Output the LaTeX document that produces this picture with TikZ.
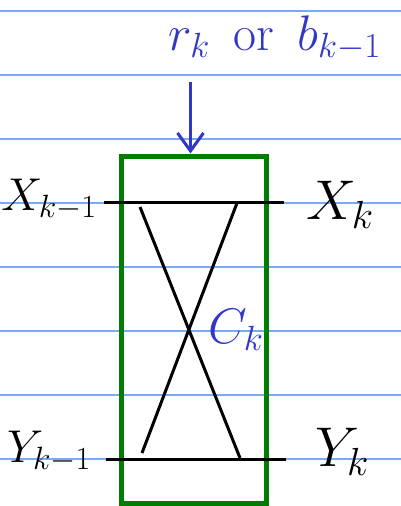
\documentclass[tikz,border=0pt]{standalone}
\usepackage{fix-cm}
\usetikzlibrary{arrows.meta}
\definecolor{rulecol}{RGB}{120,172,242}
\definecolor{boxgreen}{RGB}{0,125,0}
\definecolor{inkblue}{RGB}{50,55,200}
\begin{document}
\begin{tikzpicture}[x=1pt,y=-1pt,
  notebookline/.style={color=rulecol,line width=1.1pt},
  wire/.style={black,line width=3pt},
  lbl/.style={inner sep=0pt,font=\fontsize{56}{56}\selectfont},
  smalllbl/.style={inner sep=0pt,font=\fontsize{46}{46}\selectfont},
  bluelbl/.style={inner sep=0pt,text=inkblue,font=\fontsize{50}{50}\selectfont}]
\useasboundingbox (0,0) rectangle (401,506);
\fill[white] (0,0) rectangle (401,506);
\foreach \yy in {11,75,139,203,267,331,395,459}
  \draw[notebookline] (0,\yy) -- (401,\yy);
% box
\node[draw=boxgreen,line width=5pt,minimum width=145pt,minimum height=347pt,inner sep=0pt,fill=none] (box) at (193.5,329.5) {};
% wires
\coordinate (xl) at (104,202);
\coordinate (xr) at (284,202);
\coordinate (yl) at (106,459);
\coordinate (yr) at (286,459);
\draw[wire] (xl) -- (xr);
\draw[wire] (yl) -- (yr);
\coordinate (c1a) at (140,207);
\coordinate (c1b) at (240,458);
\coordinate (c2a) at (237,203);
\coordinate (c2b) at (142,453);
\draw[wire] (c1a) -- (c1b);
\draw[wire] (c2a) -- (c2b);
% arrow
\coordinate (arrtop) at (190.5,82);
\draw[inkblue,line width=3pt,-{Straight Barb[length=18pt,width=26pt,line width=3pt]}] (arrtop) -- (box.north -| arrtop);
% labels
\node[smalllbl] (Xkm) at (49,200) {$X_{k-1}$};
\node[lbl] (Xk) at (340,205) {$X_{k}$};
\node[smalllbl] (Ykm) at (49,452) {$Y_{k-1}$};
\node[lbl] (Yk) at (342,452) {$Y_{k}$};
\node[bluelbl] (Ck) at (236,330) {$C_{k}$};
\node[bluelbl,anchor=west] (top) at (168,38) {$r_k$ \,or\, $b_{k-1}$};
\end{tikzpicture}
\end{document}
